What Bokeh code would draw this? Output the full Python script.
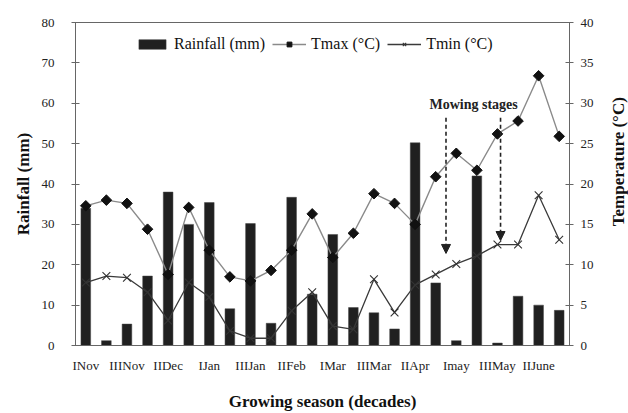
import math
from bokeh.plotting import figure
from bokeh.layouts import row
from bokeh.models import (Range1d, LinearAxis, FixedTicker, Legend, LegendItem,
                          Arrow, NormalHead, Label, ColumnDataSource)
from bokeh.embed import file_html
from bokeh.resources import INLINE

# ---- data ----
decades = ["INov", "IINov", "IIINov", "IDec", "IIDec", "IIIDec",
           "IJan", "IIJan", "IIIJan", "IFeb", "IIFeb", "IIIFeb",
           "IMar", "IIMar", "IIIMar", "IApr", "IIApr", "IIIApr",
           "Imay", "IImay", "IIIMay", "IJune", "IIJune", "IIIJune"]
rainfall = [34, 1.2, 5.3, 17.2, 38, 30, 35.4, 9.1, 30.2, 5.5, 36.7, 12.7,
            27.5, 9.4, 8.1, 4.1, 50.2, 15.5, 1.2, 42, 0.6, 12.2, 10, 8.7]
tmax = [17.3, 18.0, 17.6, 14.4, 8.8, 17.1, 11.8, 8.5, 8.0, 9.3, 11.8, 16.3,
        10.9, 13.9, 18.8, 17.6, 15.0, 20.9, 23.8, 21.7, 26.2, 27.8, 33.4, 25.9]
tmin = [7.8, 8.6, 8.4, 6.6, 3.1, 7.8, 6.0, 1.8, 0.9, 0.9, 4.3, 6.6,
        2.4, 2.0, 8.2, 4.1, 7.5, 8.8, 10.1, 11.1, 12.5, 12.5, 18.6, 13.1]
shown_labels = ["INov", "IIINov", "IIDec", "IJan", "IIIJan", "IIFeb",
                "IMar", "IIIMar", "IIApr", "Imay", "IIIMay", "IIJune"]
rain_ticks = [0, 10, 20, 30, 40, 50, 60, 70, 80]
temp_ticks = [0, 5, 10, 15, 20, 25, 30, 35, 40]
# mowing stage arrows (decade position, top and bottom in deg C)
mowing_x = [17.5, 20.15]
mowing_top = [28.2, 28.2]
mowing_bottom = [11.4, 13.0]
mowing_text = "Mowing stages"
mowing_text_pos = (18.84, 29.8)
right_title = "Temperature (°C)"

FONT = "Liberation Serif"
idx = list(range(len(decades)))
src = ColumnDataSource(dict(x=idx, rain=rainfall, tmax=tmax, tmin=tmin))

H = 413
p = figure(width=598, height=H, output_backend="svg", toolbar_location=None,
           x_range=Range1d(-0.5, len(decades) - 0.5), y_range=Range1d(0, 80),
           min_border_left=75, min_border_right=29, min_border_top=22,
           min_border_bottom=65)
p.extra_y_ranges = {"temp": Range1d(0, 40)}
p.xgrid.visible = False
p.ygrid.visible = False
p.outline_line_color = "#666666"
p.outline_line_width = 1
p.background_fill_color = "white"
p.border_fill_color = "white"

bars = p.vbar(x="x", top="rain", width=0.47, source=src,
              fill_color="#202020", line_color="#444444", line_width=0.5)
tmax_line = p.line("x", "tmax", source=src, y_range_name="temp",
                   line_color="#8a8a8a", line_width=1.4)
tmax_pts = p.scatter("x", "tmax", source=src, y_range_name="temp",
                     marker="square", angle=math.pi / 4, size=7.5,
                     fill_color="#111111", line_color="#111111")
tmin_line = p.line("x", "tmin", source=src, y_range_name="temp",
                   line_color="#3a3a3a", line_width=1.3)
tmin_pts = p.scatter("x", "tmin", source=src, y_range_name="temp",
                     marker="x", size=11, line_color="#333333", line_width=1.1)

# x axis
xa = p.xaxis[0]
even = idx[::2]
xa.ticker = FixedTicker(ticks=even)
xa.major_label_overrides = {i: lab for i, lab in zip(even, shown_labels)}
xa.major_tick_in = 0
xa.major_tick_out = 0
xa.minor_tick_line_color = None
xa.major_label_standoff = 12
xa.axis_label = "Growing season (decades)"
xa.axis_label_standoff = 16

# left axis
ya = p.yaxis[0]
ya.ticker = FixedTicker(ticks=rain_ticks)
ya.axis_label = "Rainfall (mm)"
ya.major_tick_in = 4
ya.major_tick_out = 4
ya.minor_tick_line_color = None
ya.major_label_standoff = 17
ya.axis_label_standoff = 6

# right axis (its title is drawn in a narrow side panel, reading upward)
ra = LinearAxis(y_range_name="temp", ticker=FixedTicker(ticks=temp_ticks))
ra.major_tick_in = 4
ra.major_tick_out = 4
ra.minor_tick_line_color = None
ra.major_label_standoff = 7
p.add_layout(ra, "right")

for ax in [xa, ya, ra]:
    ax.axis_line_color = "#666666"
    ax.major_tick_line_color = "#666666"
    ax.major_label_text_font = FONT
    ax.major_label_text_font_size = "13px"
    ax.major_label_text_color = "#222222"
    ax.axis_label_text_font = FONT
    ax.axis_label_text_font_size = "17px"
    ax.axis_label_text_font_style = "bold"
    ax.axis_label_text_color = "#111111"

# legend
legend = Legend(items=[
    LegendItem(label="Rainfall (mm)", renderers=[bars]),
    LegendItem(label="Tmax (°C)", renderers=[tmax_line, tmax_pts]),
    LegendItem(label="Tmin (°C)", renderers=[tmin_line, tmin_pts]),
], orientation="horizontal", location=(58, 290))
legend.label_text_font = FONT
legend.label_text_font_size = "16px"
legend.label_text_color = "#111111"
legend.glyph_width = 34
legend.glyph_height = 12
legend.label_standoff = 5
legend.spacing = 7
legend.padding = 2
legend.margin = 0
legend.border_line_alpha = 0
legend.background_fill_alpha = 0
p.add_layout(legend, "center")

# mowing stage arrows
for mx, mt, mb in zip(mowing_x, mowing_top, mowing_bottom):
    p.add_layout(Arrow(x_start=mx, y_start=mt, x_end=mx, y_end=mb,
                       y_range_name="temp", line_dash="4 3", line_width=1.6,
                       line_color="#222222",
                       end=NormalHead(size=9, fill_color="#222222",
                                      line_color="#222222")))
p.add_layout(Label(x=mowing_text_pos[0], y=mowing_text_pos[1],
                   y_range_name="temp",
                   text=mowing_text, text_font=FONT, text_font_size="14px",
                   text_font_style="bold", text_align="center",
                   text_baseline="middle", text_color="#222222"))

# side panel holding the right-hand axis title
side = figure(width=30, height=H, output_backend="svg", toolbar_location=None,
              x_range=Range1d(0, 1), y_range=Range1d(0, 1),
              min_border=0, min_border_left=0, min_border_right=0,
              min_border_top=0, min_border_bottom=0)
side.axis.visible = False
side.grid.visible = False
side.outline_line_color = None
side.border_fill_color = "white"
side.background_fill_color = "white"
side.add_layout(Label(x=0.667, y=1 - 178 / H, text=right_title,
                      angle=math.pi / 2, text_font=FONT,
                      text_font_size="17px", text_font_style="bold",
                      text_align="center", text_baseline="middle",
                      text_color="#111111"))

layout = row(p, side, spacing=0)
open("out.html", "w").write(file_html(layout, INLINE))
